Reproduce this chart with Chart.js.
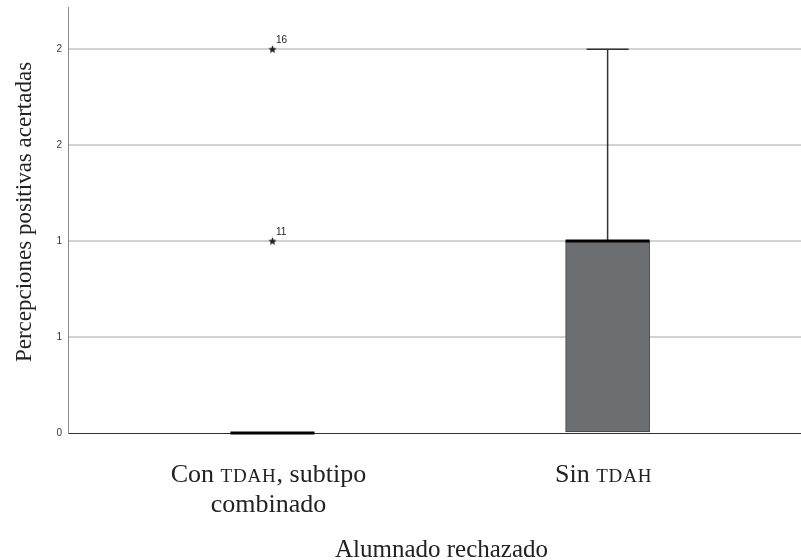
<!DOCTYPE html>
<html><head><meta charset="utf-8">
<script src="https://cdn.jsdelivr.net/npm/chart.js@4/dist/chart.umd.min.js"></script>
<style>html,body{margin:0;padding:0;background:#fff}#wrap{width:801px;height:560px}</style>
</head><body><div id="wrap"><canvas id="c" width="801" height="560"></canvas></div>
<script>
// ---- data ----
const categories = [['Con TDAH, subtipo', 'combinado'], ['Sin TDAH']];
const categoryPos = [1, 2];
const q1 = [0, 0];
const median = [0, 1];
const q3 = [0, 1];
const whiskerLow = [0, 0];
const whiskerHigh = [0, 2];
const outlierValues = [[1, 2], []];
const outlierLabels = [['11', '16'], []];
const yTicks = [0, 0.5, 1, 1.5, 2];
const yTitle = 'Percepciones positivas acertadas';
const xTitle = 'Alumnado rechazado';

// ---- styles ----
const SERIF = '"Liberation Serif", "DejaVu Serif", serif';
const SANS = '"Liberation Sans", Arial, sans-serif';
const BOX_W = 84;

const star = document.createElement('canvas');
star.width = 9; star.height = 9;
(function(){
  const g = star.getContext('2d');
  g.fillStyle = '#222';
  g.beginPath();
  for (let i = 0; i < 10; i++) {
    const r = i % 2 === 0 ? 4.3 : 1.9;
    const a = -Math.PI / 2 + i * Math.PI / 5;
    const px = 4.5 + r * Math.cos(a), py = 4.8 + r * Math.sin(a);
    if (i === 0) g.moveTo(px, py); else g.lineTo(px, py);
  }
  g.closePath(); g.fill();
})();

function drawRich(ctx, text, cx, baseline, size) {
  const parts = text.split(/(\b[A-Z]{2,}\b)/).filter(s => s.length);
  const segs = parts.map(p => {
    const sc = /^[A-Z]{2,}$/.test(p);
    const font = (sc ? Math.round(size * 0.72) : size) + 'px ' + SERIF;
    ctx.font = font;
    return { t: p, font, w: ctx.measureText(p).width + (sc ? p.length * 0.8 : 0) };
  });
  const total = segs.reduce((s, g) => s + g.w, 0);
  let x = cx - total / 2;
  ctx.textAlign = 'left';
  ctx.textBaseline = 'alphabetic';
  segs.forEach(g => {
    ctx.font = g.font;
    if (/^[A-Z]{2,}$/.test(g.t)) {
      let xx = x;
      for (const ch of g.t) { ctx.fillText(ch, xx, baseline); xx += ctx.measureText(ch).width + 0.8; }
    } else ctx.fillText(g.t, x, baseline);
    x += g.w;
  });
}

const boxPlugin = {
  id: 'boxparts',
  afterDatasetsDraw(chart) {
    const ctx = chart.ctx, xs = chart.scales.x, ys = chart.scales.y;
    ctx.save();
    categoryPos.forEach((pos, i) => {
      const xp = xs.getPixelForValue(pos);
      ctx.strokeStyle = '#333'; ctx.lineWidth = 1.5;
      if (whiskerHigh[i] > q3[i]) {
        const a = ys.getPixelForValue(q3[i]), b = ys.getPixelForValue(whiskerHigh[i]);
        ctx.beginPath(); ctx.moveTo(xp, a); ctx.lineTo(xp, b);
        ctx.moveTo(xp - BOX_W / 4, b); ctx.lineTo(xp + BOX_W / 4, b); ctx.stroke();
      }
      if (whiskerLow[i] < q1[i]) {
        const a = ys.getPixelForValue(q1[i]), b = ys.getPixelForValue(whiskerLow[i]);
        ctx.beginPath(); ctx.moveTo(xp, a); ctx.lineTo(xp, b);
        ctx.moveTo(xp - BOX_W / 4, b); ctx.lineTo(xp + BOX_W / 4, b); ctx.stroke();
      }
      const m = ys.getPixelForValue(median[i]);
      ctx.strokeStyle = '#000'; ctx.lineWidth = 3;
      ctx.beginPath(); ctx.moveTo(xp - BOX_W / 2, m); ctx.lineTo(xp + BOX_W / 2, m); ctx.stroke();
      ctx.fillStyle = '#222'; ctx.font = '10px ' + SANS;
      ctx.textAlign = 'left'; ctx.textBaseline = 'alphabetic';
      outlierValues[i].forEach((v, j) => {
        ctx.fillText(outlierLabels[i][j], xp + 3.5, ys.getPixelForValue(v) - 6);
      });
    });
    ctx.restore();
  },
  afterDraw(chart) {
    const ctx = chart.ctx, xs = chart.scales.x, area = chart.chartArea;
    ctx.save();
    ctx.fillStyle = '#222';
    categoryPos.forEach((pos, i) => {
      const xp = xs.getPixelForValue(pos) - 4;
      categories[i].forEach((line, k) => drawRich(ctx, line, xp, area.bottom + 49 + k * 30, 26));
    });
    drawRich(ctx, xTitle, (area.left + area.right) / 2 + 7, 557, 25);
    ctx.translate(31, 212);
    ctx.rotate(-Math.PI / 2);
    drawRich(ctx, yTitle, 0, 0, 23);
    ctx.restore();
  }
};

const outlierData = [];
categoryPos.forEach((pos, i) => outlierValues[i].forEach(v => outlierData.push({ x: pos, y: v })));

function noPad(s) { s.paddingTop = 0; s.paddingBottom = 0; s.paddingLeft = 0; s.paddingRight = 0; }

new Chart(document.getElementById('c'), {
  type: 'bar',
  data: {
    datasets: [
      {
        type: 'bar',
        data: categoryPos.map((x, i) => ({ x, y: [q1[i], q3[i]] })),
        backgroundColor: '#6b6f72',
        borderColor: '#3c3c3c',
        borderWidth: q1.map((v, i) => q3[i] > v ? 1 : 0),
        borderSkipped: false,
        barThickness: BOX_W
      },
      {
        type: 'scatter',
        data: outlierData,
        pointStyle: star,
        pointRadius: 4,
        showLine: false
      }
    ]
  },
  options: {
    responsive: false,
    animation: false,
    layout: { autoPadding: false, padding: { top: 7, left: 0, right: 0, bottom: 0 } },
    plugins: { legend: { display: false }, tooltip: { enabled: false } },
    scales: {
      x: {
        type: 'linear', min: 0.39, max: 2.577, offset: false,
        grid: { display: false, drawTicks: false },
        ticks: { display: false },
        border: { color: '#333', width: 1 },
        afterFit: s => { s.height = 127; noPad(s); }
      },
      y: {
        min: 0, max: 2.22,
        afterBuildTicks: s => { s.ticks = yTicks.map(v => ({ value: v })); },
        ticks: { callback: v => String(Math.round(v)), color: '#333', font: { size: 10, family: SANS }, padding: 6 },
        grid: { drawTicks: false, lineWidth: 2, color: c => (c.tick && c.tick.value === 0) ? 'rgba(0,0,0,0)' : '#d2d2d2' },
        border: { color: '#8a8a8a', width: 1 },
        afterFit: s => { s.width = 68; noPad(s); }
      }
    }
  },
  plugins: [boxPlugin]
});
</script>
</body></html>
